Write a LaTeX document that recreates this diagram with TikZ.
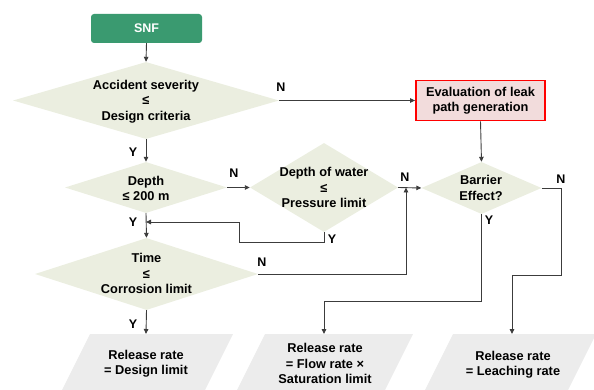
\documentclass[tikz,border=0pt]{standalone}
\usepackage{fontspec}
\setmainfont{Liberation Sans}
\usetikzlibrary{shapes.geometric,arrows.meta}
\definecolor{snfgreen}{RGB}{58,154,112}
\definecolor{diafill}{RGB}{235,238,224}
\definecolor{parfill}{RGB}{236,236,236}
\definecolor{evalfill}{RGB}{242,220,220}
\definecolor{linegray}{RGB}{60,60,60}
\begin{document}
\begin{tikzpicture}[x=1pt,y=-1pt,
  txt/.style={font=\fontsize{12.8}{15.5}\selectfont\bfseries, align=center, inner sep=0pt, text=black},
  dia/.style={diamond, fill=diafill, draw=none, inner sep=0pt},
  conn/.style={draw=linegray, line width=0.9pt, -{Triangle[length=5pt,width=4.5pt]}},
  lab/.style={font=\fontsize{12.5}{14}\selectfont\bfseries, inner sep=0pt, text=black},
  par/.style={fill=parfill, draw=none}]
\useasboundingbox (0,0) rectangle (594,390);
\clip (0,0) rectangle (594,390);

% start box
\node[fill=snfgreen, rounded corners=3pt, minimum width=111pt, minimum height=29pt,
      inner sep=0pt, text=white, font=\fontsize{12.5}{14}\selectfont\bfseries] (snf) at (146.5,28.5) {SNF};

% decisions
\node[dia, minimum width=266pt, minimum height=77pt] (d1) at (146,100.5) {};
\node[txt] (d1t) at (146,101.5) {Accident severity\\≤\\Design criteria};

\node[draw=red, line width=1.8pt, fill=evalfill, minimum width=129pt, minimum height=40pt,
      inner sep=0pt, txt] (ev) at (480.5,100.5) {Evaluation of leak\\path generation};

\node[dia, minimum width=162pt, minimum height=51pt] (d2) at (146,187.5) {};
\node[txt] (d2t) at (146,188.5) {Depth\\≤ 200 m};

\node[dia, minimum width=148pt, minimum height=89pt] (d3) at (324,187.5) {};
\node[txt] (d3t) at (324,187.5) {Depth of water\\≤\\Pressure limit};

\node[dia, minimum width=223pt, minimum height=72pt] (d4) at (146.5,274) {};
\node[txt] (d4t) at (146.5,273.5) {Time\\≤\\Corrosion limit};

\node[dia, minimum width=120pt, minimum height=52pt] (d5) at (481.5,188) {};
\node[txt] (d5t) at (481,188) {Barrier\\Effect?};

% outputs (parallelograms, cut by the lower edge)
\fill[par] (90,334) -- (233,334) -- (202.5,395) -- (59.5,395) -- cycle;
\fill[par] (265,334) -- (413,334) -- (382.5,395) -- (234.5,395) -- cycle;
\fill[par] (453,334) -- (596,334) -- (565.5,395) -- (422.5,395) -- cycle;
\coordinate (r1top) at (146,334);
\coordinate (r2top) at (324,334);
\coordinate (r3top) at (512,334);
\node[txt] (r1) at (146,363.5) {Release rate\\= Design limit};
\node[txt] (r2) at (325,363.5) {Release rate\\= Flow rate ×\\Saturation limit};
\node[txt] (r3) at (513,364.5) {Release rate\\= Leaching rate};

% connectors
\coordinate (mrg) at (406,187.5);
\coordinate (ret) at (146,222);
\draw[conn] (snf.south) -- (d1.north);
\draw[conn] (d1.east) -- (d1.east -| ev.west);
\draw[conn] (ev.south) -- (d5.north);
\draw[conn] (d1.south) -- (d2.north);
\draw[conn] (d2.east) -- (d3.west);
\draw[conn] (d2.south) -- (d4.north);
\draw[conn] (d3.east) -- (d5.west);
\draw[conn] (d4.east) -| (mrg);
\draw[conn] (d3.south) -- (324,242) -- (239,242) -- (239,222) -- (ret);
\draw[conn] (d4.south) -- (r1top);
\draw[conn] (d5.south) -- (481.5,301) -| (r2top);
\draw[conn] (d5.east) -- (561,188) -- (561,275) -| (r3top);

% branch labels
\node[lab] (n1) at (281,87) {N};
\node[lab] (y1) at (133,152) {Y};
\node[lab] (n2) at (234,173) {N};
\node[lab] (y2) at (133,222) {Y};
\node[lab] (y3) at (332,239) {Y};
\node[lab] (n3) at (405,177) {N};
\node[lab] (n4) at (262,262) {N};
\node[lab] (y4) at (133,324) {Y};
\node[lab] (y5) at (489,220) {Y};
\node[lab] (n5) at (561,179) {N};
\end{tikzpicture}
\end{document}
